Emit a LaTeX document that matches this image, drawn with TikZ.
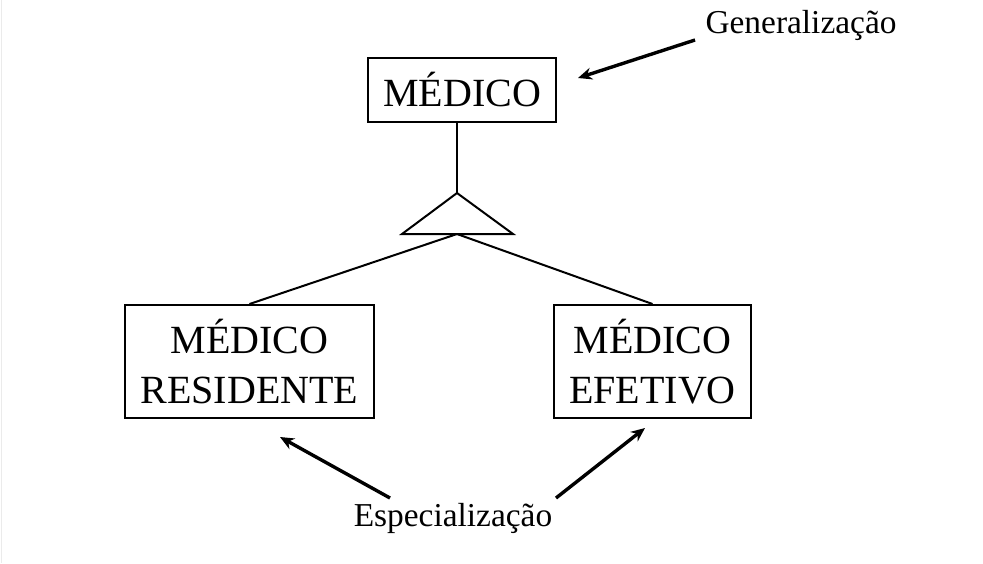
\documentclass[tikz,border=0pt]{standalone}
\usepackage{fontspec}
\setmainfont{Liberation Serif}
\usetikzlibrary{arrows.meta}
\begin{document}
\begin{tikzpicture}[x=0.5pt, y=-0.5pt,
    entity/.style={draw, line width=1pt, align=center, inner sep=0pt,
                   font=\fontsize{20}{25}\selectfont},
    note/.style={inner sep=0pt, font=\fontsize{16.7}{20}\selectfont},
    pointer/.style={line width=1.7pt, -{Stealth[length=7pt, width=6pt]}}]
    \useasboundingbox (0,0) rectangle (983,563);
    \draw[black!8] (1,0) -- (1,563);
    % entities
    \node[entity, minimum width=94pt, minimum height=32pt] (medico) at (462, 90) {MÉDICO};
    \node[entity, minimum width=124.5pt, minimum height=56.5pt] (residente) at (249.5, 361.5) {MÉDICO\\RESIDENTE};
    \node[entity, minimum width=98.5pt, minimum height=56.5pt] (efetivo) at (652.5, 361.5) {MÉDICO\\EFETIVO};
    % specialization triangle
    \coordinate (apex) at (457, 193);
    \coordinate (baseL) at (402, 234);
    \coordinate (baseR) at (513, 234);
    \coordinate (base) at (457, 234);
    \draw[line width=1pt] (medico.south -| apex) -- (apex);
    \draw[line width=1pt] (apex) -- (baseL) -- (baseR) -- cycle;
    \draw[line width=1pt] (base) -- (residente.north);
    \draw[line width=1pt] (base) -- (efetivo.north);
    % labels
    \node[note] (gen) at (801, 25) {Generalização};
    \node[note] (esp) at (453, 518) {Especialização};
    \coordinate (genfrom) at (695, 40);
    \coordinate (gento) at (578, 78);
    \coordinate (espL) at (390, 498);
    \coordinate (espR) at (556, 498);
    \coordinate (resto) at (280, 437);
    \coordinate (efeto) at (645, 428);
    \draw[pointer] (genfrom) -- (gento);
    \draw[pointer] (espL) -- (resto);
    \draw[pointer] (espR) -- (efeto);
\end{tikzpicture}
\end{document}
